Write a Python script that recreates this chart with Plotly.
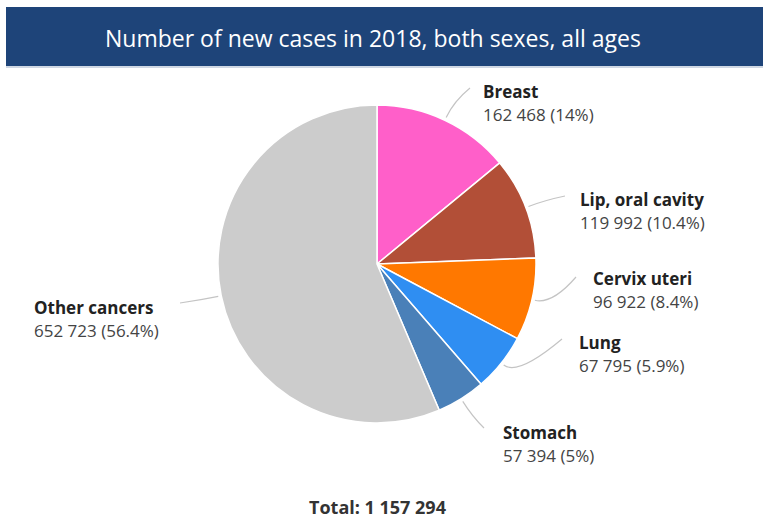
import math
import plotly.graph_objects as go

# ---- data ----
categories = ["Breast", "Lip, oral cavity", "Cervix uteri", "Lung", "Stomach", "Other cancers"]
new_cases = [162468, 119992, 96922, 67795, 57394, 652723]
slice_colors = ["#ff5fc9", "#b24f37", "#ff7800", "#2f8ef2", "#4a80b8", "#cccccc"]
title_text = "Number of new cases in 2018, both sexes, all ages"

# ---- layout constants (pixels) ----
W, H = 763, 522
CX, CY, R = 377, 264, 159
# connector end / label anchor positions (layout choice, pixels)
label_anchor = {
    "Breast": (470, 88),
    "Lip, oral cavity": (565, 196),
    "Cervix uteri": (576, 277),
    "Lung": (562, 339),
    "Stomach": (484, 428),
    "Other cancers": (180, 303),
}
label_text_pos = {
    "Breast": (481, 92),
    "Lip, oral cavity": (578, 199),
    "Cervix uteri": (591, 278),
    "Lung": (577, 342),
    "Stomach": (501, 432),
    "Other cancers": (32, 307),
}
LINE_GAP = 23

def px(x):
    return x / W

def py(y):
    return 1 - y / H

total = sum(new_cases)

def fmt_num(v):
    return f"{v:,}".replace(",", " ")

def fmt_pct(v):
    p = round(100 * v / total, 1)
    s = f"{p:.1f}"
    if s.endswith(".0"):
        s = s[:-2]
    return s + "%"

fig = go.Figure()
fig.add_trace(go.Pie(
    labels=categories,
    values=new_cases,
    marker=dict(colors=slice_colors, line=dict(color="white", width=1.5)),
    sort=False,
    direction="clockwise",
    rotation=0,
    textinfo="none",
    hoverinfo="skip",
    showlegend=False,
    domain=dict(x=[(CX - R) / W, (CX + R) / W], y=[(H - CY - R) / H, (H - CY + R) / H]),
))

shapes = []
annotations = []

# header bar
shapes.append(dict(type="rect", xref="paper", yref="paper",
                   x0=px(6), x1=1, y0=py(66), y1=py(7),
                   fillcolor="#1e4479", line=dict(width=0), layer="below"))
shapes.append(dict(type="line", xref="paper", yref="paper",
                   x0=px(6), x1=1, y0=py(67), y1=py(67),
                   line=dict(color="#9fb0c8", width=1)))
annotations.append(dict(text=title_text, xref="paper", yref="paper",
                        x=px(373), y=py(38), showarrow=False,
                        xanchor="center", yanchor="middle",
                        font=dict(family="Open Sans", size=23, color="white")))

# leader lines and labels
cum = 0
for name, v in zip(categories, new_cases):
    mid = (cum + v / 2) / total
    cum += v
    ang = 2 * math.pi * mid
    dx, dy = math.sin(ang), -math.cos(ang)
    sx, sy = CX + (R + 3) * dx, CY + (R + 3) * dy
    cx_, cy_ = CX + (R + 21) * dx, CY + (R + 21) * dy
    ex, ey = label_anchor[name]
    path = (f"M {px(sx):.5f},{py(sy):.5f} Q {px(cx_):.5f},{py(cy_):.5f} "
            f"{px(ex):.5f},{py(ey):.5f}")
    shapes.append(dict(type="path", xref="paper", yref="paper", path=path,
                       line=dict(color="#c4c4c4", width=1.2)))
    tx, ty = label_text_pos[name]
    annotations.append(dict(text=f"<b>{name}</b>", xref="paper", yref="paper",
                            x=px(tx), y=py(ty), showarrow=False,
                            xanchor="left", yanchor="middle",
                            font=dict(family="Open Sans", size=17, color="#222222")))
    annotations.append(dict(text=f"{fmt_num(v)} ({fmt_pct(v)})", xref="paper", yref="paper",
                            x=px(tx), y=py(ty + LINE_GAP), showarrow=False,
                            xanchor="left", yanchor="middle",
                            font=dict(family="Open Sans", size=17, color="#444444")))

annotations.append(dict(text=f"<b>Total: {fmt_num(total)}</b>", xref="paper", yref="paper",
                        x=px(377), y=py(507), showarrow=False,
                        xanchor="center", yanchor="middle",
                        font=dict(family="Open Sans", size=18, color="#333333")))

fig.update_layout(
    width=W, height=H,
    margin=dict(l=0, r=0, t=0, b=0),
    paper_bgcolor="white",
    plot_bgcolor="white",
    shapes=shapes,
    annotations=annotations,
)

fig.write_html("out.html",
               config={"displayModeBar": False},
               post_script="document.body.style.margin='0';document.body.style.overflow='hidden';")
